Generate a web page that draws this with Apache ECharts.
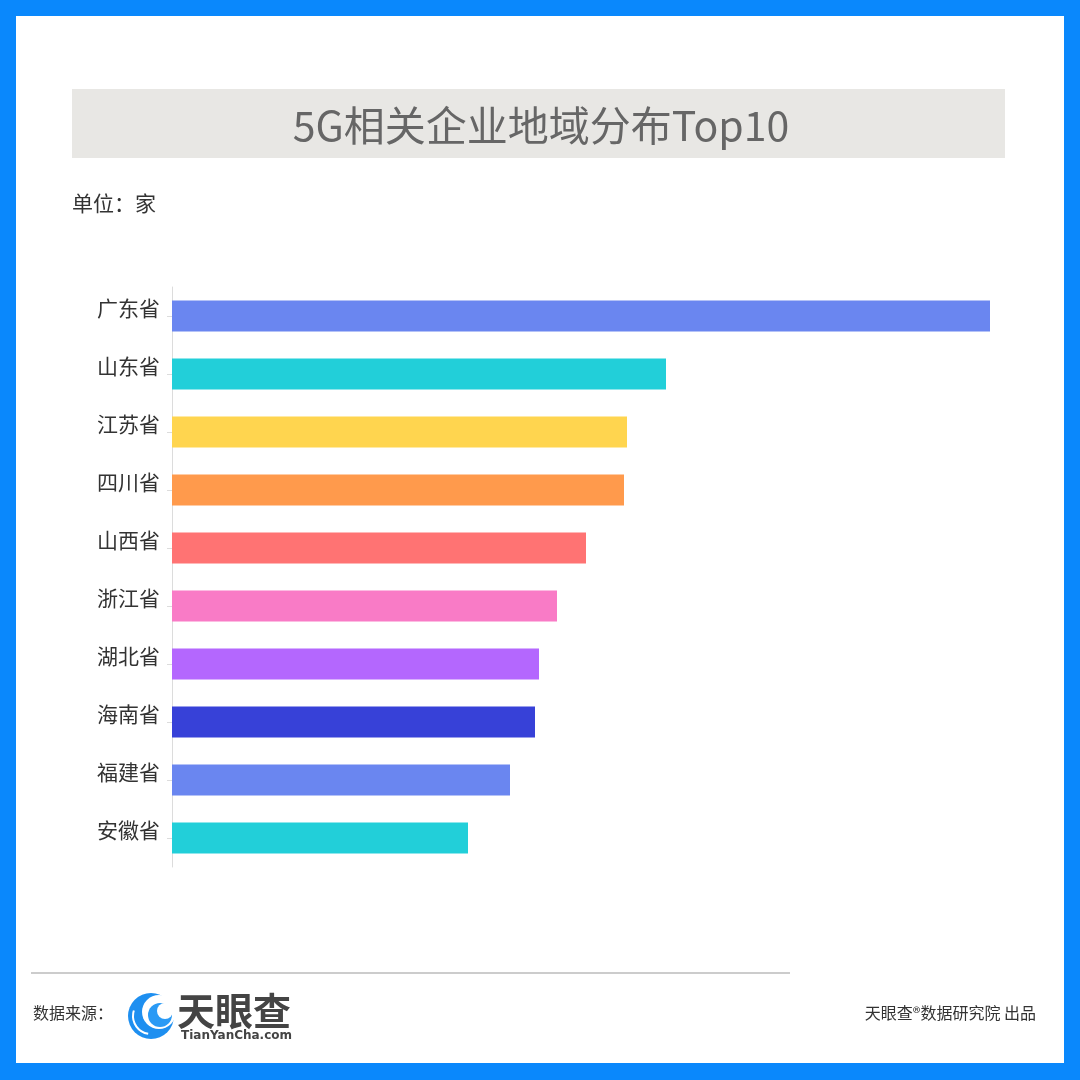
<!DOCTYPE html>
<html>
<head>
<meta charset="utf-8">
<script src="https://cdn.jsdelivr.net/npm/echarts@6/dist/echarts.min.js"></script>
<style>
html,body{margin:0;padding:0;background:#0a88fc;}
#c{width:1080px;height:1080px;}
</style>
</head>
<body>
<div id="c"></div>
<script>
const categories = ['广东省','山东省','江苏省','四川省','山西省','浙江省','湖北省','海南省','福建省','安徽省'];
const values = [8180, 4940, 4550, 4520, 4140, 3850, 3670, 3630, 3380, 2960];
const barColors = ['#6a86f0','#22cfd9','#ffd54f','#ff9a4c','#ff7373','#f97bc6','#b467fe','#3741d8','#6a86f0','#22cfd9'];
const titleText = '5G相关企业地域分布Top10';
const unitText = '单位：家';

const FONT = '"Noto Sans CJK SC","Noto Sans",sans-serif';
const chart = echarts.init(document.getElementById('c'));
chart.setOption({
  backgroundColor: '#0a88fc',
  animation: false,
  grid: {left: 172, right: 90, top: 287, bottom: 213, containLabel: false},
  xAxis: {type: 'value', min: 0, max: 'dataMax', show: false},
  yAxis: {
    type: 'category', data: categories, inverse: true,
    axisLine: {show: true, lineStyle: {color: '#dcdcdc', width: 1}},
    axisTick: {show: true, alignWithLabel: true, length: 5, lineStyle: {color: '#dcdcdc'}},
    axisLabel: {fontSize: 21, color: '#333', fontFamily: FONT, margin: 12, verticalAlign: 'bottom', lineHeight: 16}
  },
  series: [{
    type: 'bar', barWidth: 31, z: 5,
    data: values.map((v, i) => ({value: v, itemStyle: {color: barColors[i]}}))
  }],
  graphic: [
    {type: 'rect', z: -100, shape: {x: 16, y: 16, width: 1048, height: 1047}, style: {fill: '#ffffff'}},
    {type: 'rect', z: -90, shape: {x: 72, y: 89, width: 933, height: 69}, style: {fill: '#e8e7e4'}},
    {type: 'text', z: 10, x: 541, y: 125, style: {text: titleText, fill: '#666666', font: '41px ' + FONT, align: 'center', verticalAlign: 'middle'}},
    {type: 'text', z: 10, x: 72, y: 203, style: {text: unitText, fill: '#333333', font: '21px ' + FONT, verticalAlign: 'middle'}},
    {type: 'line', z: 10, shape: {x1: 31, y1: 973, x2: 790, y2: 973}, style: {stroke: '#cccccc', lineWidth: 2}},
    {type: 'text', z: 10, x: 33, y: 1013, style: {text: '数据来源：', fill: '#333333', font: '16px ' + FONT, verticalAlign: 'middle'}},
    // logo icon
    {type: 'circle', z: 10, shape: {cx: 151, cy: 1016, r: 23}, style: {fill: '#1e8ff0'}},
    {type: 'circle', z: 11, shape: {cx: 159, cy: 1012, r: 17}, style: {fill: '#ffffff'}},
    {type: 'circle', z: 12, shape: {cx: 160, cy: 1015, r: 12}, style: {fill: '#2a9af5'}},
    {type: 'circle', z: 13, shape: {cx: 165, cy: 1011, r: 8}, style: {fill: '#ffffff'}},
    {type: 'arc', z: 14, shape: {cx: 151, cy: 1016, r: 18, startAngle: Math.PI * 0.55, endAngle: Math.PI * 1.1}, style: {stroke: '#ffffff', lineWidth: 2, fill: 'none'}},
    {type: 'text', z: 10, x: 177, y: 1011, style: {text: '天眼查', fill: '#444444', font: 'bold 38px ' + FONT, verticalAlign: 'middle'}},
    {type: 'text', z: 10, x: 181, y: 1036, style: {text: 'TianYanCha.com', fill: '#444444', font: 'bold 12px "DejaVu Sans",sans-serif', verticalAlign: 'middle'}},
    {type: 'text', z: 10, x: 1036, y: 1013, style: {text: '天眼查®数据研究院 出品', fill: '#333333', font: '16px ' + FONT, align: 'right', verticalAlign: 'middle'}}
  ]
});
</script>
</body>
</html>
